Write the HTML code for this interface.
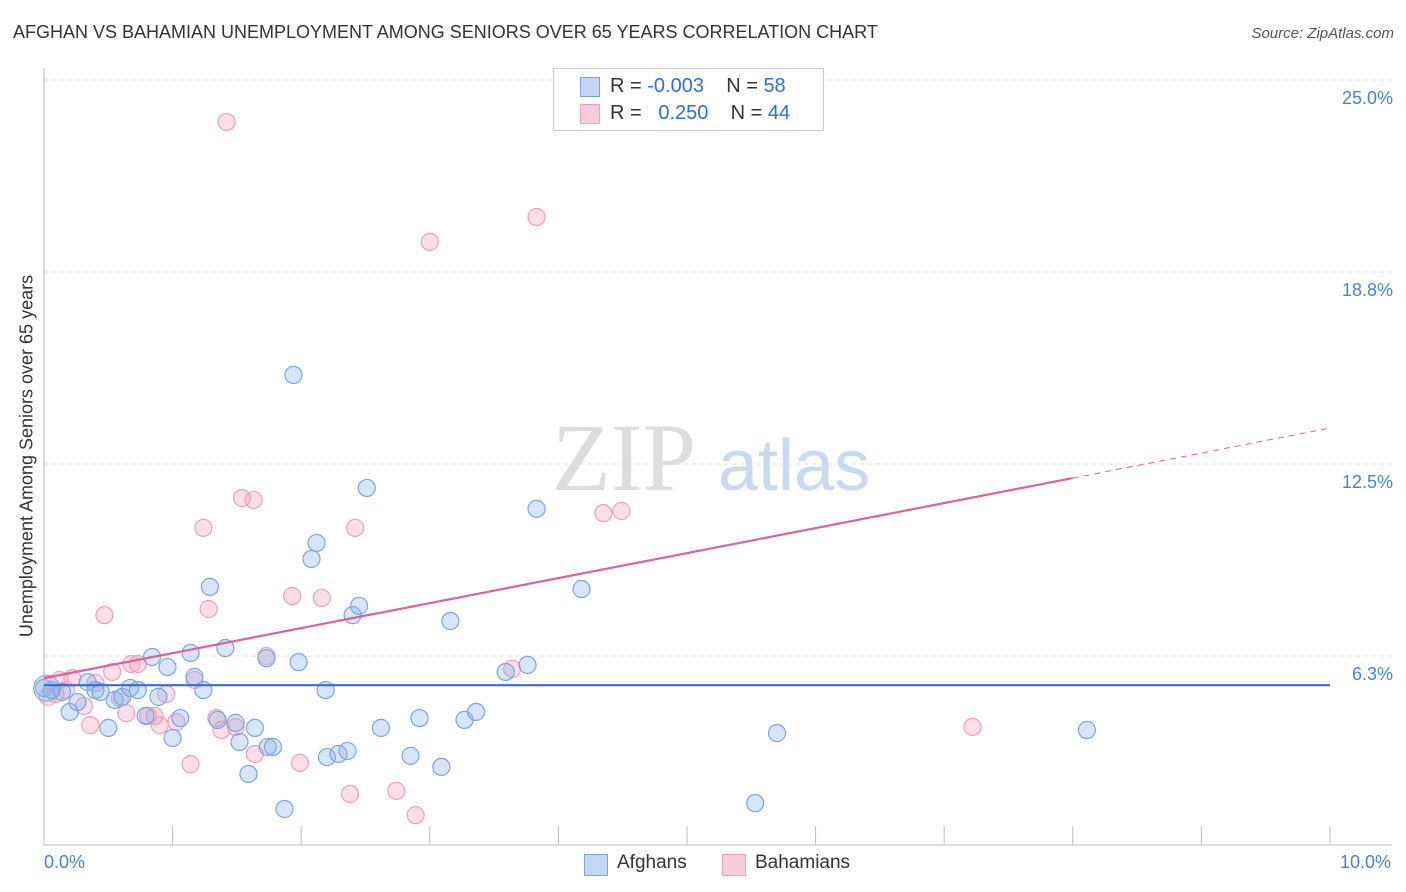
<!DOCTYPE html>
<html><head><meta charset="utf-8">
<style>
body{margin:0;background:#fff;font-family:"Liberation Sans",sans-serif;}
#wrap{position:relative;width:1406px;height:892px;overflow:hidden;}
.t{position:absolute;white-space:nowrap;}
</style></head>
<body>
<div id="wrap">
<div class="t" style="left:13px;top:22px;font-size:18px;color:#333;">AFGHAN VS BAHAMIAN UNEMPLOYMENT AMONG SENIORS OVER 65 YEARS CORRELATION CHART</div>
<div class="t" style="right:12px;top:25px;font-size:15px;color:#555;font-style:italic;">Source: ZipAtlas.com</div>
<svg id="svg" width="1406" height="892" style="position:absolute;left:0;top:0"></svg>
</div>
<script>
const xTicks=[0,1,2,3,4,5,6,7,8,9,10];
const yTicks=[6.25,12.5,18.75,25];
const yTickLabels=["6.3%","12.5%","18.8%","25.0%"];
const afghanX=[0,.06,.14,.2,.26,.34,.4,.44,.5,.55,.61,.67,.73,.79,.84,.89,.96,1.0,1.06,1.14,1.17,1.24,1.29,1.35,1.41,1.49,1.52,1.59,1.64,1.73,1.74,1.78,1.87,1.94,1.98,2.08,2.12,2.19,2.2,2.29,2.36,2.4,2.45,2.51,2.62,2.85,2.92,3.09,3.16,3.27,3.36,3.59,3.76,3.83,4.18,5.53,5.7,8.11];
const afghanY=[5.21,5.14,5.08,4.43,4.75,5.4,5.14,5.08,3.91,4.82,4.92,5.21,5.14,4.3,6.22,4.92,5.89,3.58,4.23,6.35,5.57,5.14,8.5,4.17,6.51,4.07,3.45,2.41,3.91,6.18,3.29,3.29,1.27,15.4,6.05,9.41,9.93,5.14,2.96,3.06,3.16,7.58,7.88,11.72,3.91,3.0,4.23,2.64,7.39,4.17,4.43,5.73,5.96,11.04,8.43,1.46,3.74,3.84];
const bahX=[.03,.09,.17,.22,.31,.36,.4,.47,.53,.64,.68,.73,.81,.86,.9,.95,1.03,1.14,1.17,1.24,1.28,1.34,1.38,1.42,1.49,1.54,1.63,1.64,1.73,1.93,1.99,2.16,2.38,2.42,2.74,2.89,3.0,3.64,3.83,4.35,4.49,7.22,.12,.59];
const bahY=[4.92,5.01,5.14,5.53,4.62,4.0,5.37,7.58,5.73,4.39,5.99,5.99,4.3,4.3,4.0,5.01,4.1,2.73,5.47,10.42,7.78,4.23,3.84,23.63,3.94,11.39,11.33,3.06,6.25,8.2,2.77,8.14,1.76,10.42,1.86,1.07,19.73,5.83,20.54,10.9,10.97,3.94,5.47,4.88];
const afghanTrend=[5.3,5.3];
const bahTrend=[5.53,0.814];
const X=v=>44+v*128.6, Y=v=>848-v*30.72;
const svg=document.getElementById('svg');
const NS='http://www.w3.org/2000/svg';
function mk(tag,attrs,parent){const e=document.createElementNS(NS,tag);for(const k in attrs)e.setAttribute(k,attrs[k]);(parent||svg).appendChild(e);return e;}
let wm=mk('text',{x:552,y:490,'font-size':96,fill:'#ddd','font-family':'Liberation Serif, serif'});wm.textContent='ZIP';


let wm2=mk('text',{x:718,y:490,'font-size':72,fill:'#c9d9ef','font-family':'Liberation Sans, sans-serif'});wm2.textContent='atlas';


yTicks.forEach((v,i)=>{
 const g=mk('line',{x1:44,x2:1392,y1:Y(v),y2:Y(v),stroke:'#ddd','stroke-dasharray':'4,4'});
 
 
 const t=mk('text',{x:1393,y:Y(v)+24,'text-anchor':'end','font-size':18,fill:'#4a7fd4'});t.textContent=yTickLabels[i];
 
 
});
const ax=mk('line',{x1:44,x2:44,y1:68,y2:845,stroke:'#bbb'});


const bx=mk('line',{x1:44,x2:1392,y1:845,y2:845,stroke:'#bbb'});


xTicks.forEach(v=>{const l=mk('line',{x1:X(v),x2:X(v),y1:826,y2:845,stroke:'#bbb'});
 
 });
function pts(xs,ys,fill,stroke,name){xs.forEach((x,i)=>{const c=mk('circle',{cx:X(x),cy:Y(ys[i]),r:8.5,fill:fill,stroke:stroke,'stroke-width':1.2});
 
 });}
pts(bahX,bahY,'rgba(244,160,190,0.35)','#eea0bb','bahamian-point');
pts(afghanX,afghanY,'rgba(140,180,235,0.35)','#7aa6e0','afghan-point');
const big=mk('circle',{cx:X(0.02),cy:Y(5.2),r:13,fill:'rgba(140,180,235,0.35)',stroke:'#7aa6e0'});


const at=mk('line',{x1:X(0),x2:X(10),y1:Y(afghanTrend[0]),y2:Y(afghanTrend[1]),stroke:'#2f6fd6','stroke-width':2.2});


const bt=mk('line',{x1:X(0),x2:X(8),y1:Y(bahTrend[0]),y2:Y(bahTrend[0]+bahTrend[1]*8),stroke:'#e0609a','stroke-width':2.2});


const bd=mk('line',{x1:X(8),x2:X(10),y1:Y(bahTrend[0]+bahTrend[1]*8),y2:Y(bahTrend[0]+bahTrend[1]*10),stroke:'#e0609a','stroke-width':1,'stroke-dasharray':'6,5'});


</script>
<div class="t" style="left:44px;top:852px;font-size:18px;color:#4a7fd4;">0.0%</div>
<div class="t" style="left:1340px;top:852px;font-size:18px;color:#4a7fd4;">10.0%</div>
<div class="t" style="left:27px;top:456px;font-size:18px;color:#333;transform:translate(-50%,-50%) rotate(-90deg);">Unemployment Among Seniors over 65 years</div>
<div style="position:absolute;left:553px;top:68px;width:269px;height:61px;border:1px solid #ccc;background:#fff;font-size:20px;">
 <div style="position:absolute;left:26px;top:8px;width:18px;height:18px;background:#c3d7f4;border:1px solid #7aa6e0"></div>
 <div class="t" style="left:56px;top:6px;color:#333">R = <span style="color:#2f6fd6">-0.003</span>&nbsp;&nbsp;&nbsp; N = <span style="color:#2f6fd6">58</span></div>
 <div style="position:absolute;left:26px;top:35px;width:18px;height:18px;background:#f9ccdb;border:1px solid #eea0bb"></div>
 <div class="t" style="left:56px;top:33px;color:#333">R = &nbsp;&nbsp;<span style="color:#2f6fd6">0.250</span>&nbsp;&nbsp;&nbsp; N = <span style="color:#2f6fd6">44</span></div>
</div>
<div style="position:absolute;left:584px;top:852px;font-size:19px;color:#333;">
 <div style="position:absolute;left:0;top:2px;width:22px;height:20px;background:#c3d7f4;border:1px solid #7aa6e0"></div>
 <div class="t" style="left:33px;top:0">Afghans</div>
 <div style="position:absolute;left:138px;top:2px;width:22px;height:20px;background:#f9ccdb;border:1px solid #eea0bb"></div>
 <div class="t" style="left:171px;top:0">Bahamians</div>
</div>
</body></html>
